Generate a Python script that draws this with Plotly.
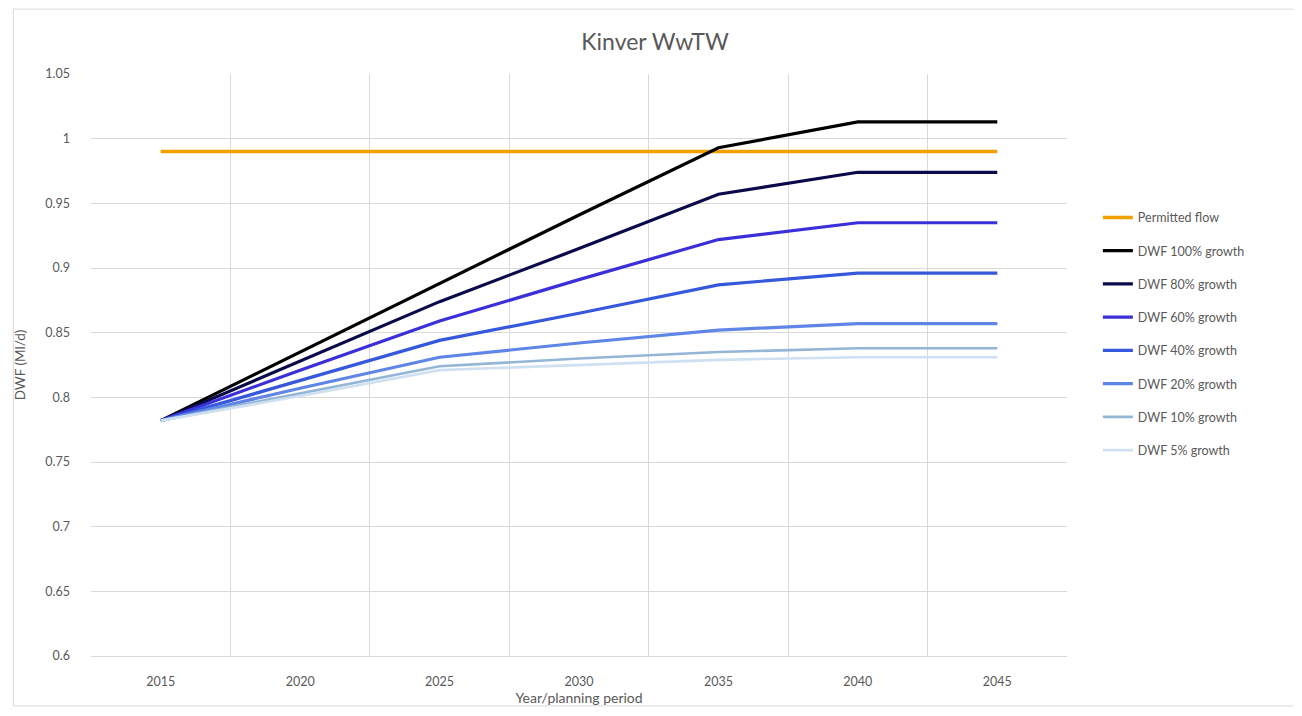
import plotly.graph_objects as go

years = ["2015", "2020", "2025", "2030", "2035", "2040", "2045"]

series_names = [
    "Permitted flow",
    "DWF 100% growth",
    "DWF 80% growth",
    "DWF 60% growth",
    "DWF 40% growth",
    "DWF 20% growth",
    "DWF 10% growth",
    "DWF 5% growth",
]

permitted_flow = [0.99, 0.99, 0.99, 0.99, 0.99, 0.99, 0.99]
dwf_100 = [0.782, 0.835, 0.888, 0.941, 0.993, 1.013, 1.013]
dwf_80 = [0.782, 0.828, 0.874, 0.915, 0.957, 0.974, 0.974]
dwf_60 = [0.782, 0.821, 0.859, 0.891, 0.922, 0.935, 0.935]
dwf_40 = [0.782, 0.813, 0.844, 0.865, 0.887, 0.896, 0.896]
dwf_20 = [0.782, 0.807, 0.831, 0.842, 0.852, 0.857, 0.857]
dwf_10 = [0.782, 0.803, 0.824, 0.830, 0.835, 0.838, 0.838]
dwf_5 = [0.782, 0.801, 0.821, 0.825, 0.829, 0.831, 0.831]

y_tick_vals = [0.6, 0.65, 0.7, 0.75, 0.8, 0.85, 0.9, 0.95, 1.0, 1.05]
y_tick_text = ["0.6", "0.65", "0.7", "0.75", "0.8", "0.85", "0.9", "0.95", "1", "1.05"]

all_series = [permitted_flow, dwf_100, dwf_80, dwf_60, dwf_40, dwf_20, dwf_10, dwf_5]
colors = ["#F2A100", "#000000", "#0A0A4A", "#3A2FD8", "#3558DC", "#5F86E6", "#93B6D6", "#CFE0F2"]
widths = [3.5, 3.2, 3.2, 3.2, 3.2, 3.2, 2.6, 2.6]

FONT = "Lato, Open Sans, sans-serif"
GREY = "#595959"

fig = go.Figure()
for i, (name, vals) in enumerate(zip(series_names, all_series)):
    fig.add_trace(go.Scatter(
        x=years, y=vals, mode="lines", name=name,
        line=dict(color=colors[i], width=widths[i]),
        legendgroup=f"g{i}",
    ))

# page has an 8px body margin; figure pixel = page pixel - 8
OFF = 8
W, H = 1294, 708
L, T = 87 - OFF, 74 - OFF
pw, ph = 980, 583
R = W - L - pw
B = H - T - ph

def px_x(p):
    return (p - OFF - L) / pw

def px_y(p):
    return 1 - (p - OFF - T) / ph

fig.update_layout(
    width=W, height=H,
    margin=dict(l=L, r=R, t=T, b=B),
    paper_bgcolor="white", plot_bgcolor="white",
    font=dict(family=FONT, size=12, color=GREY),
    title=dict(text="Kinver WwTW", x=0.5, xref="container", xanchor="center",
               y=1 - (42 - OFF) / H, yref="container", yanchor="middle",
               font=dict(size=23, color=GREY, family=FONT)),
    xaxis=dict(
        type="category", range=[-0.5, 6.5], tickson="boundaries",
        showgrid=True, gridcolor="#D9D9D9", gridwidth=1,
        showline=True, linecolor="#D9D9D9", ticks="", zeroline=False,
        ticklabelstandoff=14,
        tickfont=dict(size=12.5, color=GREY),
        title=dict(text="Year/planning period", standoff=5, font=dict(size=14, color=GREY)),
    ),
    yaxis=dict(
        range=[0.6, 1.05], tickvals=y_tick_vals, ticktext=y_tick_text,
        showgrid=True, gridcolor="#D9D9D9", gridwidth=1, zeroline=False,
        showline=False, ticks="", ticklen=0,
        ticklabelstandoff=20,
        tickfont=dict(size=12.5, color=GREY),
        title=dict(text="DWF (Ml/d)", standoff=16, font=dict(size=13.5, color=GREY)),
    ),
    legend=dict(
        x=px_x(1098), y=px_y(203), xanchor="left", yanchor="top",
        font=dict(size=12.5, color=GREY, family=FONT),
        tracegroupgap=14, bgcolor="rgba(0,0,0,0)",
    ),
    shapes=[dict(type="rect", xref="paper", yref="paper",
                 x0=px_x(9), x1=px_x(1297), y0=px_y(707), y1=px_y(9),
                 line=dict(color="#D9D9D9", width=1), layer="below")],
)

fig.write_html("out.html")
